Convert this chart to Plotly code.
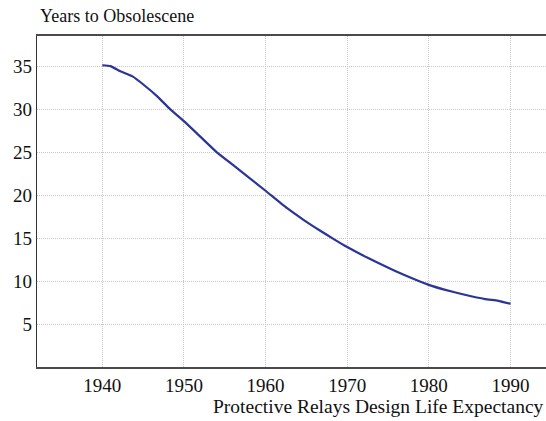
import plotly.graph_objects as go

years = [1940, 1941, 1942.2, 1943.7, 1945.1, 1946.7, 1948.3, 1950, 1952, 1954,
         1956, 1958, 1960, 1962.6, 1964.6, 1966.7, 1968.4, 1970, 1972.5, 1974.9,
         1977, 1980, 1981.9, 1984.4, 1986.9, 1988.5, 1990]
obsolescence = [35.1, 35.0, 34.4, 33.8, 32.8, 31.5, 30.0, 28.6, 26.8, 25.0,
                23.5, 22.0, 20.5, 18.5, 17.15, 15.85, 14.85, 13.95, 12.7, 11.6,
                10.7, 9.55, 9.0, 8.4, 7.9, 7.7, 7.35]
x_ticks = [1940, 1950, 1960, 1970, 1980, 1990]
y_ticks = [5, 10, 15, 20, 25, 30, 35]

font = "Liberation Serif, Times New Roman, serif"
grid = dict(showgrid=True, gridcolor="#c8c8c8", griddash="1px,1px", gridwidth=1)

fig = go.Figure()
fig.add_trace(go.Scatter(x=years, y=obsolescence, mode="lines",
                         line=dict(color="#2a3596", width=2.2, shape="spline", smoothing=0.4),
                         showlegend=False, hoverinfo="skip"))

fig.update_layout(
    width=546, height=421,
    margin=dict(l=37, r=0, t=36, b=54),
    plot_bgcolor="white", paper_bgcolor="white",
    font=dict(family=font, size=19, color="#111"),
    xaxis=dict(range=[1932.0, 1994.35], tickvals=x_ticks, **grid,
               showline=True, linecolor="#4a4a4a", linewidth=1.6, mirror=True,
               zeroline=False, ticks="", tickfont=dict(size=19)),
    yaxis=dict(range=[0, 38.5], tickvals=y_ticks, **grid,
               showline=True, linecolor="#333333", linewidth=1.3, mirror=False,
               zeroline=False, ticks="", tickfont=dict(size=19)),
    annotations=[
        dict(text="Years to Obsolescene", xref="paper", yref="paper", x=0, y=1,
             xanchor="left", yanchor="bottom", yshift=8, xshift=1, showarrow=False,
             font=dict(size=18)),
        dict(text="Protective Relays Design Life Expectancy", xref="paper", yref="paper",
             x=1, y=0, xanchor="right", yanchor="top", yshift=-27, showarrow=False,
             font=dict(size=19.5)),
    ],
)

fig.write_html("out.html", config={"displayModeBar": False},
               post_script="document.body.style.margin='0';document.body.style.overflow='hidden';")
